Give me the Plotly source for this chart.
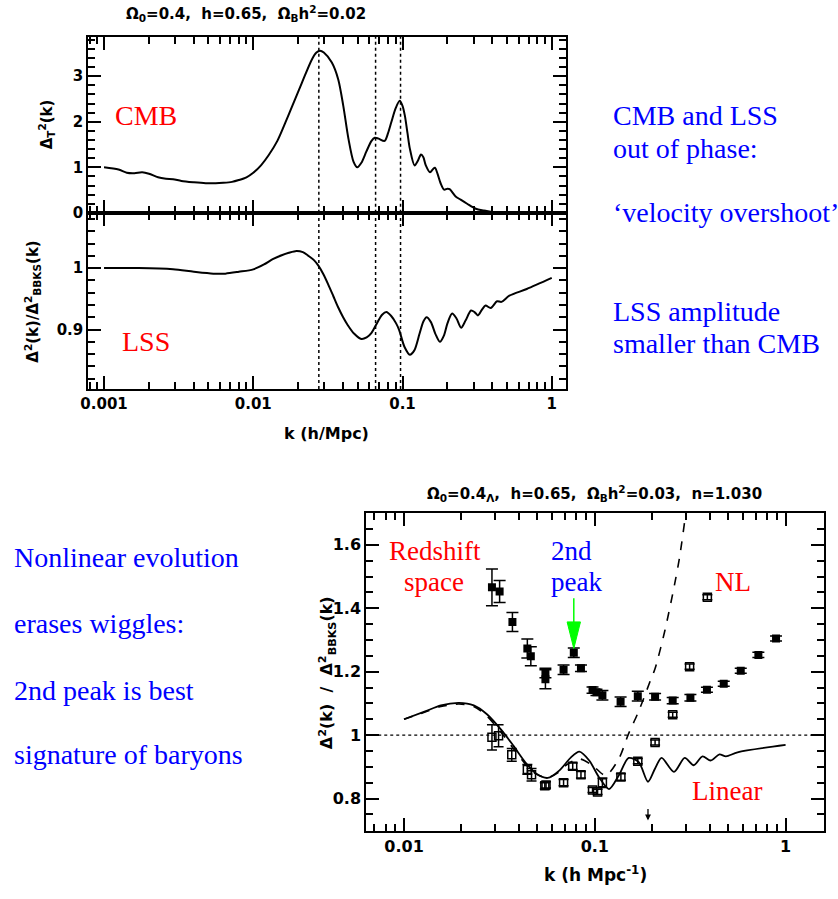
import numpy as np
import plotly.graph_objects as go

W, H = 838, 899

# ---------------- data: top panel ----------------
cmb_k = [0.001, 0.00125, 0.00142, 0.0016, 0.0018, 0.002, 0.0023, 0.0026, 0.0029, 0.0033,
         0.004, 0.0048, 0.0056, 0.0063, 0.0072, 0.008, 0.009, 0.01, 0.0113, 0.0127,
         0.0145, 0.0164, 0.018, 0.0212, 0.0247, 0.0265, 0.028, 0.0297, 0.0336, 0.0371,
         0.0401, 0.0434, 0.047, 0.0498, 0.053, 0.0573, 0.062, 0.0652, 0.069, 0.0759,
         0.08, 0.0843, 0.09, 0.0958, 0.1, 0.1036, 0.108, 0.112, 0.1205, 0.127,
         0.133, 0.138, 0.143, 0.153, 0.16, 0.165, 0.172, 0.18, 0.19, 0.2,
         0.207, 0.227, 0.245, 0.271, 0.31, 0.35, 0.41, 0.43]
cmb_val = [1.00, 0.95, 0.88, 0.87, 0.89, 0.86, 0.78, 0.75, 0.74, 0.70,
           0.67, 0.65, 0.65, 0.66, 0.68, 0.72, 0.78, 0.88, 1.05, 1.27,
           1.58, 1.98, 2.3, 2.86, 3.37, 3.52, 3.56, 3.52, 3.30, 2.93,
           2.35, 1.63, 1.12, 1.00, 1.10, 1.35, 1.58, 1.65, 1.63, 1.58,
           1.75, 2.00, 2.30, 2.46, 2.35, 2.14, 1.75, 1.41, 1.04, 1.15,
           1.28, 1.22, 1.05, 0.89, 0.96, 0.99, 0.85, 0.65, 0.51, 0.53,
           0.52, 0.36, 0.29, 0.20, 0.09, 0.05, 0.01, 0.0]

lss_k = [0.001, 0.0017, 0.0029, 0.004, 0.0054, 0.0065, 0.008, 0.01, 0.0118, 0.0135,
         0.0155, 0.0173, 0.0195, 0.0215, 0.0234, 0.0255, 0.0273, 0.0295, 0.0317, 0.0343,
         0.0369, 0.040, 0.043, 0.0475, 0.053, 0.0575, 0.0618, 0.068, 0.073, 0.078,
         0.084, 0.0906, 0.095, 0.103, 0.112, 0.12, 0.13, 0.138, 0.145, 0.155,
         0.166, 0.178, 0.19, 0.2, 0.215, 0.23, 0.247, 0.265, 0.288, 0.305,
         0.32, 0.34, 0.36, 0.39, 0.43, 0.46, 0.52, 0.68, 1.0]
lss_ratio = [1.000, 1.000, 0.998, 0.994, 0.991, 0.991, 0.994, 0.998, 1.006, 1.0145,
             1.021, 1.025, 1.028, 1.026, 1.020, 1.013, 1.004, 0.990, 0.974, 0.955,
             0.937, 0.920, 0.907, 0.893, 0.8845, 0.887, 0.894, 0.912, 0.924, 0.9285,
             0.922, 0.910, 0.899, 0.872, 0.859, 0.866, 0.893, 0.913, 0.920, 0.912,
             0.893, 0.880, 0.891, 0.910, 0.926, 0.918, 0.903, 0.915, 0.931, 0.928,
             0.923, 0.932, 0.939, 0.935, 0.946, 0.945, 0.955, 0.966, 0.984]

peak_k = [0.0275, 0.066, 0.097]

# ---------------- data: bottom panel ----------------
lin_k = [0.01, 0.0128, 0.0156, 0.0194, 0.0232, 0.0272, 0.0326, 0.0374, 0.0438, 0.0494,
         0.0567, 0.0653, 0.075, 0.083, 0.0935, 0.105, 0.1187, 0.1335, 0.1506, 0.17,
         0.19, 0.207, 0.224, 0.26, 0.296, 0.33, 0.367, 0.405, 0.45, 0.487,
         0.56, 1.0]
lin_ratio = [1.05, 1.074, 1.094, 1.102, 1.094, 1.066, 1.014, 0.967, 0.910, 0.878,
             0.865, 0.889, 0.930, 0.948, 0.920, 0.868, 0.830, 0.873, 0.928, 0.915,
             0.853, 0.895, 0.928, 0.884, 0.928, 0.905, 0.933, 0.920, 0.939, 0.933,
             0.946, 0.969]

nl_k = [0.01, 0.0128, 0.0156, 0.0194, 0.0232, 0.0272, 0.0326, 0.0374, 0.0438, 0.0494,
        0.0567, 0.0653, 0.0706, 0.083, 0.097, 0.114, 0.1335, 0.15, 0.17, 0.195,
        0.207, 0.233, 0.262, 0.278, 0.30, 0.31]
nl_ratio = [1.05, 1.072, 1.09, 1.098, 1.09, 1.06, 1.005, 0.958, 0.905, 0.877,
            0.866, 0.885, 0.905, 0.925, 0.905, 0.873, 0.925, 1.003, 1.076, 1.17,
            1.21, 1.33, 1.476, 1.56, 1.70, 1.76]

z_k = [0.0289, 0.0317, 0.037, 0.0443, 0.0462, 0.0551, 0.0551, 0.0686, 0.0776, 0.0846,
       0.0973, 0.102, 0.1096, 0.1365, 0.168, 0.207, 0.256, 0.317, 0.387, 0.474,
       0.582, 0.72, 0.891]
z_ratio = [1.466, 1.453, 1.357, 1.273, 1.249, 1.196, 1.176, 1.206, 1.26, 1.211,
           1.142, 1.135, 1.126, 1.105, 1.123, 1.121, 1.109, 1.118, 1.143, 1.162,
           1.203, 1.253, 1.305]
z_err = [0.058, 0.035, 0.03, 0.03, 0.03, 0.015, 0.03, 0.015, 0.015, 0.01,
         0.01, 0.01, 0.015, 0.015, 0.015, 0.01, 0.01, 0.01, 0.008, 0.008,
         0.008, 0.008, 0.008]

r_k = [0.0289, 0.0313, 0.0367, 0.0443, 0.0466, 0.0547, 0.0555, 0.0686, 0.0766, 0.0846,
       0.0973, 0.1034, 0.1096, 0.137, 0.168, 0.207, 0.256, 0.314, 0.389]
r_ratio = [0.993, 0.998, 0.938, 0.892, 0.875, 0.840, 0.843, 0.850, 0.902, 0.875,
           0.827, 0.821, 0.850, 0.868, 0.918, 0.977, 1.064, 1.216, 1.435]
r_err = [0.04, 0.035, 0.02, 0.015, 0.02, 0.01, 0.01, 0.01, 0.01, 0.01,
         0.008, 0.008, 0.015, 0.01, 0.008, 0.008, 0.008, 0.008, 0.008]

arrow_k = 0.0776
arrow_tip, arrow_base, arrow_tail = 1.273, 1.357, 1.432
small_arrow_k = 0.19

# axis ranges
top_xr = [-3.106, 0.093]
top_yr = [0, 3.87]
low_yr = [0.803, 1.09]
bot_xr = [-2.198, 0.202]
bot_yr = [0.698, 1.702]


def px(x):
    return x / W


def py(y):
    return 1 - y / H


fig = go.Figure()
BLK = "black"

fig.add_trace(go.Scatter(x=cmb_k, y=cmb_val, mode="lines", xaxis="x", yaxis="y",
                         line=dict(color=BLK, width=2, shape="spline", smoothing=0.8)))
fig.add_trace(go.Scatter(x=lss_k, y=lss_ratio, mode="lines", xaxis="x2", yaxis="y2",
                         line=dict(color=BLK, width=2, shape="spline", smoothing=0.8)))
for k in peak_k:
    fig.add_trace(go.Scatter(x=[k, k], y=top_yr, mode="lines", xaxis="x", yaxis="y",
                             line=dict(color=BLK, width=1.5, dash="dot")))
    fig.add_trace(go.Scatter(x=[k, k], y=low_yr, mode="lines", xaxis="x2", yaxis="y2",
                             line=dict(color=BLK, width=1.5, dash="dot")))

# bottom panel
fig.add_trace(go.Scatter(x=[10 ** bot_xr[0], 10 ** bot_xr[1]], y=[1, 1], mode="lines",
                         xaxis="x3", yaxis="y3", line=dict(color=BLK, width=1.3, dash="dot")))
fig.add_trace(go.Scatter(x=lin_k, y=lin_ratio, mode="lines", xaxis="x3", yaxis="y3",
                         line=dict(color=BLK, width=1.8, shape="spline", smoothing=0.8)))
fig.add_trace(go.Scatter(x=nl_k, y=nl_ratio, mode="lines", xaxis="x3", yaxis="y3",
                         line=dict(color=BLK, width=1.6, dash="dash", shape="spline", smoothing=0.8)))
fig.add_trace(go.Scatter(x=r_k, y=r_ratio, mode="markers", xaxis="x3", yaxis="y3",
                         marker=dict(symbol="square-open", size=8, color=BLK, line=dict(width=1.5)),
                         error_y=dict(type="data", array=r_err, color=BLK, thickness=1.5, width=5)))
fig.add_trace(go.Scatter(x=z_k, y=z_ratio, mode="markers", xaxis="x3", yaxis="y3",
                         marker=dict(symbol="square", size=8, color=BLK),
                         error_y=dict(type="data", array=z_err, color=BLK, thickness=1.5, width=6)))

# green arrow
hw = 0.035
fig.add_trace(go.Scatter(x=[arrow_k, arrow_k], y=[arrow_base, arrow_tail], mode="lines",
                         xaxis="x3", yaxis="y3", line=dict(color="#00ff00", width=1.5)))
fig.add_trace(go.Scatter(x=[arrow_k * 10 ** -hw, arrow_k * 10 ** hw, arrow_k, arrow_k * 10 ** -hw],
                         y=[arrow_base, arrow_base, arrow_tip, arrow_base], mode="lines",
                         fill="toself", fillcolor="#00ff00", xaxis="x3", yaxis="y3",
                         line=dict(color="#00ff00", width=1)))

tickfont = dict(family="DejaVu Sans", size=15, color=BLK, weight="bold")
tickfont_b = dict(family="DejaVu Sans", size=16, color=BLK, weight="bold")

common = dict(showline=True, linecolor=BLK, linewidth=2, mirror="allticks", ticks="inside",
              ticklen=13, tickwidth=1.5, tickcolor=BLK, showgrid=False, zeroline=False)
minor = dict(ticks="inside", ticklen=7, tickwidth=1.5, tickcolor=BLK, showgrid=False)

xd_top = [px(81), px(563)]
fig.update_layout(
    width=W, height=H, margin=dict(l=0, r=0, t=0, b=0),
    paper_bgcolor="white", plot_bgcolor="white", showlegend=False,
    xaxis=dict(domain=xd_top, anchor="y", type="log", range=top_xr, dtick=1,
               showticklabels=False, minor=dict(minor, dtick="D1"), **common),
    yaxis=dict(domain=[py(215), py(37)], anchor="x", range=top_yr, dtick=1,
               tickfont=tickfont, minor=dict(minor, dtick=0.2), **common),
    xaxis2=dict(domain=xd_top, anchor="y2", type="log", range=top_xr, dtick=1,
                tickfont=tickfont, minor=dict(minor, dtick="D1"), **common),
    yaxis2=dict(domain=[py(393), py(215)], anchor="x2", range=low_yr, dtick=0.1, tick0=0,
                tickfont=tickfont, minor=dict(minor, dtick=0.02), **common),
    xaxis3=dict(domain=[px(361.7), px(824)], anchor="y3", type="log", range=bot_xr, dtick=1,
                tickfont=tickfont_b, minor=dict(minor, dtick="D1"), **common),
    yaxis3=dict(domain=[py(839.3), py(517.7)], anchor="x3", range=bot_yr, dtick=0.2, tick0=0,
                tickfont=tickfont_b, minor=dict(minor, dtick=0.05), **common),
)

ann = []


def text(x, y, s, size, color, family, bold=False, angle=0, xanchor="center"):
    f = dict(family=family, size=size, color=color)
    if bold:
        f["weight"] = "bold"
    ann.append(dict(x=px(x), y=py(y), xref="paper", yref="paper", text=s, showarrow=False,
                    xanchor=xanchor, yanchor="middle", textangle=angle, font=f))


SANS = "DejaVu Sans"
SERIF = "Liberation Serif, Times New Roman, Times, serif"
RED = "#ff0000"
BLUE = "#0000ff"

text(240, 14, "Ω<sub>0</sub>=0.4,  h=0.65,  Ω<sub>B</sub>h<sup>2</sup>=0.02", 15, BLK, SANS, True)
text(39, 126, "Δ<sub>T</sub><sup>2</sup>(k)", 15, BLK, SANS, True, -90)
text(25, 305, "Δ<sup>2</sup>(k)/Δ<sup>2</sup><sub>BBKS</sub>(k)", 15, BLK, SANS, True, -90)
text(322, 438, "k (h/Mpc)", 16, BLK, SANS, True)
text(139, 117, "CMB", 28, RED, SERIF)
text(139, 345, "LSS", 28, RED, SERIF)
for s, y in [("CMB and LSS", 117), ("out of phase:", 150), ("‘velocity overshoot’", 215),
             ("LSS amplitude", 315), ("smaller than CMB", 347)]:
    text(609, y, s, 28, BLUE, SERIF, xanchor="left")

text(592, 498, "Ω<sub>0</sub>=0.4<sub>Λ</sub>,  h=0.65,  Ω<sub>B</sub>h<sup>2</sup>=0.03,  n=1.030", 15, BLK, SANS, True)
text(593, 883, "k (h Mpc<sup>-1</sup>)", 17, BLK, SANS, True)
text(322, 679, "Δ<sup>2</sup>(k)  /  Δ<sup>2</sup><sub>BBKS</sub>(k)", 16, BLK, SANS, True, -90)
text(431, 557, "Redshift", 27, RED, SERIF)
text(430, 588, "space", 27, RED, SERIF)
text(569, 557, "2nd", 27, BLUE, SERIF)
text(574, 588, "peak", 27, BLUE, SERIF)
text(732, 588, "NL", 27, RED, SERIF)
text(726, 799, "Linear", 27, RED, SERIF)
for s, y in [("Nonlinear evolution", 563), ("erases wiggles:", 630), ("2nd peak is best", 697),
             ("signature of baryons", 762)]:
    text(4, y, s, 28, BLUE, SERIF, xanchor="left")

ann.append(dict(x=np.log10(small_arrow_k), y=0.731, xref="x3", yref="y3", text="", showarrow=True,
                ax=0, ay=-13, arrowhead=2, arrowsize=0.9, arrowwidth=1.3, arrowcolor=BLK))

fig.update_layout(annotations=ann)
fig.write_html("out.html")
